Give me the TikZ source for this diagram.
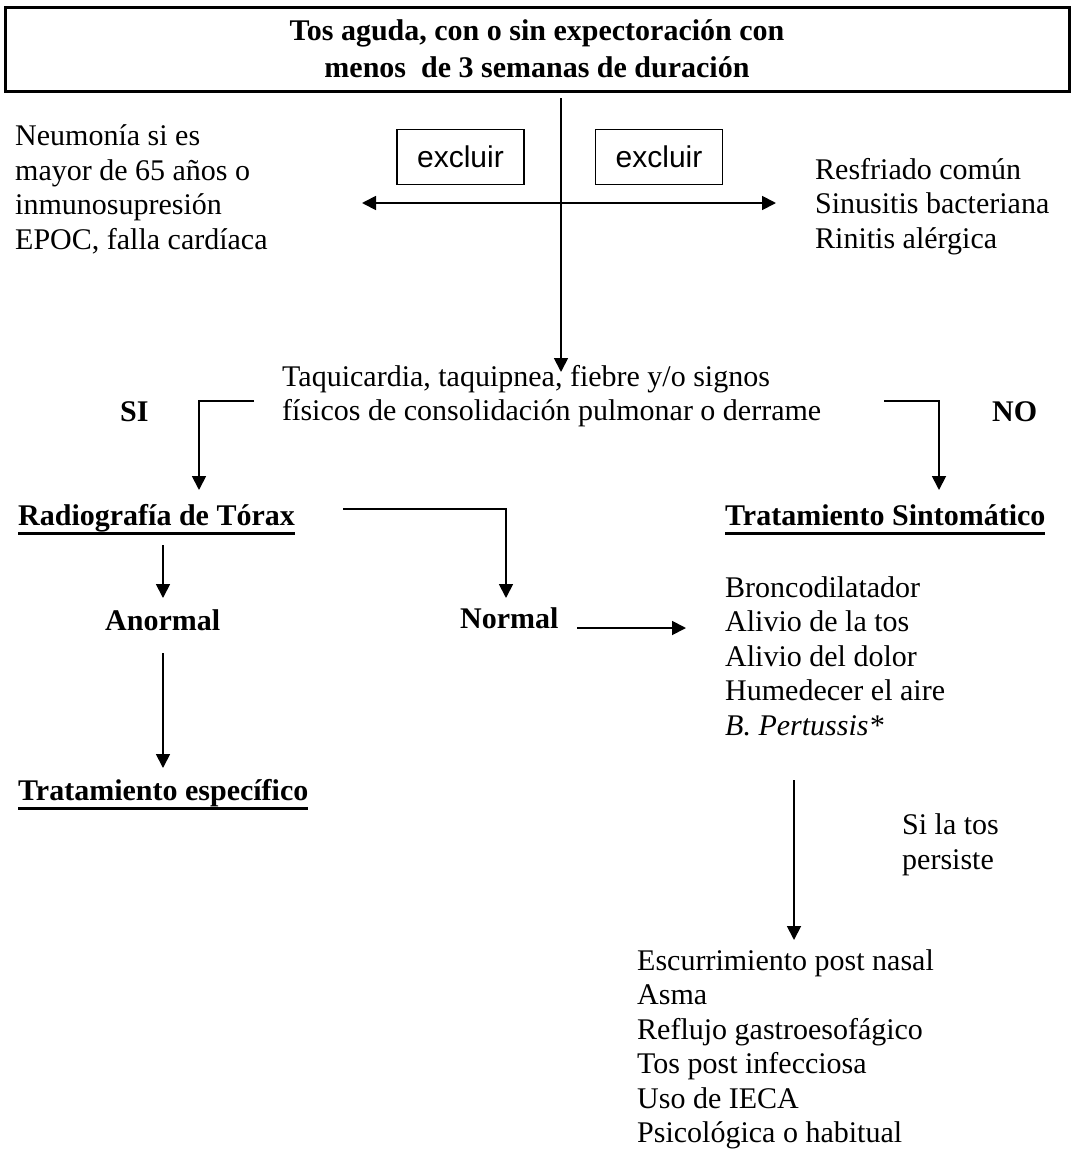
\documentclass[tikz,border=0pt]{standalone}
\usepackage{fontspec}
\setmainfont{Liberation Serif}
\newfontfamily\arialf{Liberation Sans}
\usetikzlibrary{arrows.meta}
\newcommand\myul[1]{\setbox0\hbox{#1}\rlap{\rule[-9.5pt]{\wd0}{2.6pt}}\box0}
\begin{document}
\begin{tikzpicture}[x=1pt,y=-1pt,
  txt/.style={font=\fontsize{30}{34.5}\selectfont, align=left, anchor=west, inner sep=0pt},
  btxt/.style={font=\fontsize{30}{34.5}\selectfont\bfseries, anchor=base west, inner sep=0pt},
  exbox/.style={draw, line width=1.3pt, minimum width=127pt, minimum height=55pt, inner sep=0pt, font=\fontsize{30}{34.5}\selectfont\arialf},
  conn/.style={line width=1.8pt, -{Triangle[width=14pt,length=14pt]}},
  dconn/.style={line width=1.8pt, {Triangle[width=14pt,length=14pt]}-{Triangle[width=14pt,length=14pt]}}]
\useasboundingbox[fill=white] (0,0) rectangle (1074,1154);

% nodes
\node[draw, line width=3pt, minimum width=1064pt, minimum height=84pt, align=center, inner sep=0pt,
      font=\fontsize{30}{37}\selectfont\bfseries] (title) at (537,49)
  {Tos aguda, con o sin expectoración con\\menos~ de 3 semanas de duración};
\node[txt] (neu) at (15,189.5) {Neumonía si es\\mayor de 65 años o\\inmunosupresión\\EPOC, falla cardíaca};
\node[exbox] (exl) at (460.5,157) {excluir};
\node[exbox] (exr) at (659,157) {excluir};
\node[txt] (res) at (815,206.5) {Resfriado común\\Sinusitis bacteriana\\Rinitis alérgica};
\node[txt] (taq) at (282,396) {Taquicardia, taquipnea, fiebre y/o signos\\físicos de consolidación pulmonar o derrame};
\node[btxt] (si) at (120,421) {SI};
\node[btxt] (no) at (992,421) {NO};
\node[btxt] (rad) at (18,525) {\myul{Radiografía de Tórax}};
\node[btxt] (tsin) at (725,525) {\myul{Tratamiento Sintomático}};
\node[btxt] (anor) at (105,630) {Anormal};
\node[btxt] (norm) at (460,628) {Normal};
\node[btxt] (tesp) at (18,800) {\myul{Tratamiento específico}};
\node[txt] (lst1) at (725,656) {Broncodilatador\\Alivio de la tos\\Alivio del dolor\\Humedecer el aire\\\textit{B. Pertussis*}};
\node[txt] (sila) at (902,845) {Si la tos\\persiste};
\node[txt] (lst2) at (637,1049.5) {Escurrimiento post nasal\\Asma\\Reflujo gastroesofágico\\Tos post infecciosa\\Uso de IECA\\Psicológica o habitual};

% connector end points
\coordinate (v1) at (561,98);   \coordinate (v2) at (561,372);
\coordinate (hL) at (362,203);  \coordinate (hR) at (776,203);
\coordinate (si1) at (254,401); \coordinate (si2) at (199,490);
\coordinate (no1) at (884,401); \coordinate (no2) at (939,490);
\coordinate (rn1) at (343,509); \coordinate (rn2) at (506,598);
\coordinate (ra1) at (163,545); \coordinate (ra2) at (163,598);
\coordinate (at1) at (163,653); \coordinate (at2) at (163,768);
\coordinate (nl1) at (577,628); \coordinate (nl2) at (686,628);
\coordinate (ll1) at (794,780); \coordinate (ll2) at (794,940);

% connectors
\draw[conn] (v1) -- (v2);
\draw[dconn] (hL) -- (hR);
\draw[conn] (si1) -| (si2);
\draw[conn] (no1) -| (no2);
\draw[conn] (rn1) -| (rn2);
\draw[conn] (ra1) -- (ra2);
\draw[conn] (at1) -- (at2);
\draw[conn] (nl1) -- (nl2);
\draw[conn] (ll1) -- (ll2);
\end{tikzpicture}
\end{document}
